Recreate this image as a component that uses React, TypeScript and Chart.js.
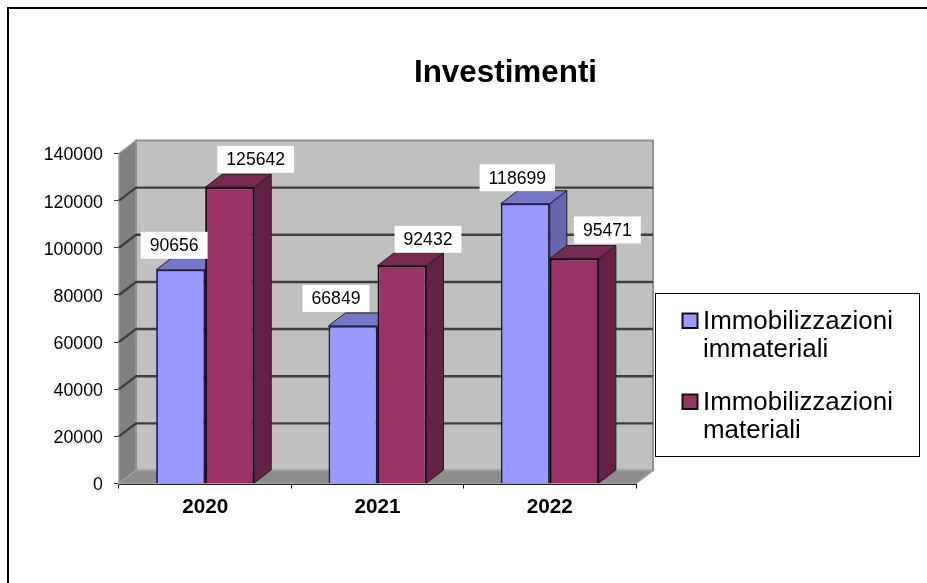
import React, { useEffect, useRef } from "react";
import { Chart, registerables } from "chart.js";

Chart.register(...registerables);

const TITLE = "Investimenti";
const categories = ["2020", "2021", "2022"];
const immateriali = [90656, 66849, 118699];
const materiali = [125642, 92432, 95471];
const seriesNames = ["Immobilizzazioni immateriali", "Immobilizzazioni materiali"];

const FONT = '"Liberation Sans", Arial, sans-serif';
const DEPTH_X = 17;
const DEPTH_Y = 13;

const FRONT = ["#9999ff", "#993366"];
const TOP = ["#7777c8", "#772a50"];
const SIDE = ["#6666aa", "#662244"];

// hand placed label offsets, from the top centre of each bar
const labelNudge = [
  [[-6.5, -24.5], [-17, -27.5], [-8, -26]],
  [[26, -28], [26, -26.3], [33, -28.5]],
];

function poly(ctx: CanvasRenderingContext2D, pts: number[][], fill: string, stroke?: string, lw = 1) {
  ctx.beginPath();
  pts.forEach((p, i) => (i ? ctx.lineTo(p[0], p[1]) : ctx.moveTo(p[0], p[1])));
  ctx.closePath();
  ctx.fillStyle = fill;
  ctx.fill();
  if (stroke) {
    ctx.strokeStyle = stroke;
    ctx.lineWidth = lw;
    ctx.stroke();
  }
}

const scene3d = {
  id: "scene3d",
  beforeDraw(chart: any) {
    const { ctx, width, height } = chart;
    ctx.save();
    ctx.fillStyle = "#fff";
    ctx.fillRect(0, 0, width, height);
    // title
    ctx.fillStyle = "#000";
    ctx.font = `bold 31.4px ${FONT}`;
    ctx.textAlign = "center";
    ctx.textBaseline = "alphabetic";
    ctx.fillText(TITLE, 505.5, 82);
    ctx.restore();
  },
  beforeDatasetsDraw(chart: any) {
    const { ctx, chartArea: a, scales } = chart;
    const y = scales.y;
    const l = a.left, r = a.right, t = a.top, b = a.bottom;
    const dx = DEPTH_X, dy = DEPTH_Y;
    ctx.save();
    // walls
    poly(ctx, [[l, t], [l + dx, t - dy], [l + dx, b - dy], [l, b]], "#808080", "#9a9a9a", 1.5);
    poly(ctx, [[l + dx, t - dy], [r + dx, t - dy], [r + dx, b - dy], [l + dx, b - dy]], "#c0c0c0", "#929292", 2);
    poly(ctx, [[l, b], [l + dx, b - dy], [r + dx, b - dy], [r, b]], "#8c8c8c", "#a0a0a0", 1.5);
    // gridlines
    ctx.strokeStyle = "#404040";
    ctx.lineWidth = 2.4;
    y.ticks.forEach((tk: any) => {
      const py = y.getPixelForValue(tk.value);
      if (tk.value === 0 || tk.value === y.max) return;
      ctx.beginPath();
      ctx.moveTo(l, py);
      ctx.lineTo(l + dx, py - dy);
      ctx.lineTo(r + dx, py - dy);
      ctx.stroke();
    });
    // bar tops and sides, first series first
    chart.data.datasets.forEach((_: any, di: number) => {
      chart.getDatasetMeta(di).data.forEach((bar: any) => {
        const w = bar.width;
        const x0 = bar.x - w / 2, x1 = bar.x + w / 2;
        const yTop = bar.y, yBase = bar.base;
        poly(ctx, [[x1, yTop], [x1 + dx, yTop - dy], [x1 + dx, yBase - dy], [x1, yBase]], SIDE[di], "#2a1a2a", 1);
        poly(ctx, [[x0, yTop], [x1, yTop], [x1 + dx, yTop - dy], [x0 + dx, yTop - dy]], TOP[di], "#2a1a2a", 1);
      });
    });
    ctx.restore();
  },
  afterDraw(chart: any) {
    const { ctx } = chart;
    ctx.save();
    // value labels
    ctx.font = `17.6px ${FONT}`;
    ctx.textAlign = "center";
    ctx.textBaseline = "middle";
    chart.data.datasets.forEach((ds: any, di: number) => {
      chart.getDatasetMeta(di).data.forEach((bar: any, i: number) => {
        const cx = bar.x + labelNudge[di][i][0];
        const cy = bar.y + labelNudge[di][i][1];
        const text = String(ds.data[i]);
        const w = ctx.measureText(text).width + 18;
        ctx.fillStyle = "#fff";
        ctx.fillRect(cx - w / 2, cy - 13.5, w, 27);
        ctx.fillStyle = "#000";
        ctx.fillText(text, cx, cy + 1);
      });
    });
    // legend
    ctx.fillStyle = "#fff";
    ctx.fillRect(655.5, 293.5, 264, 163);
    ctx.font = `25.9px ${FONT}`;
    ctx.textAlign = "left";
    ctx.textBaseline = "alphabetic";
    chart.data.datasets.forEach((ds: any, di: number) => {
      const lines = ds.label.split(" ");
      const top = 329 + di * 81;
      ctx.fillStyle = FRONT[di];
      ctx.fillRect(682.5, top - 15.5, 15, 14.5);
      ctx.strokeStyle = "#111";
      ctx.lineWidth = 2;
      ctx.strokeRect(682.5, top - 15.5, 15, 14.5);
      ctx.fillStyle = "#000";
      lines.forEach((ln: string, k: number) => ctx.fillText(ln, 703, top + k * 28));
    });
    ctx.restore();
  },
};

export default function App() {
  const ref = useRef<HTMLCanvasElement>(null);
  useEffect(() => {
    if (!ref.current) return;
    const chart = new Chart(ref.current, {
      type: "bar",
      data: {
        labels: categories,
        datasets: [
          { label: seriesNames[0], data: immateriali, backgroundColor: FRONT[0], borderColor: "#20204a", borderWidth: 1.8 },
          { label: seriesNames[1], data: materiali, backgroundColor: FRONT[1], borderColor: "#14060f", borderWidth: 1.8 },
        ],
      },
      options: {
        responsive: false,
        animation: false,
        layout: { padding: { left: 0, right: 291, top: 153.5, bottom: 0 } },
        datasets: { bar: { categoryPercentage: 0.569, barPercentage: 1 } },
        plugins: { legend: { display: false }, title: { display: false }, tooltip: { enabled: false } },
        scales: {
          x: {
            offset: true,
            afterFit: (s: any) => { s.height = 99.5; },
            grid: { display: true, drawOnChartArea: false, drawTicks: true, tickLength: 5, color: "#000", offset: true },
            border: { display: true, color: "#000", width: 2 },
            ticks: { color: "#000", font: { family: FONT, size: 20.7, weight: "bold" }, padding: 6, maxRotation: 0 },
          },
          y: {
            min: 0,
            max: 140000,
            afterFit: (s: any) => { s.width = 119; },
            grid: { display: true, drawOnChartArea: false, drawTicks: true, tickLength: 5, color: "#333" },
            border: { display: true, color: "#555", width: 1 },
            ticks: {
              stepSize: 20000,
              color: "#000",
              font: { family: FONT, size: 17.8 },
              padding: 11,
              labelOffset: 2,
              callback: (v: any) => String(v),
            },
          },
        },
      },
      plugins: [scene3d],
    } as any);
    return () => chart.destroy();
  }, []);
  return (
    <div style={{ position: "absolute", left: 0, top: 0, width: 927, height: 583, overflow: "hidden" }}>
      <canvas ref={ref} width={927} height={583} style={{ display: "block", filter: "blur(0.4px)" }} />
      <div style={{ position: "absolute", left: 7, top: 7, width: 920, height: 2, background: "#000" }} />
      <div style={{ position: "absolute", left: 7, top: 7, width: 2, height: 576, background: "#000" }} />
      <div style={{ position: "absolute", left: 655, top: 293, width: 263, height: 162, border: "1px solid #000", boxSizing: "content-box" }} />
    </div>
  );
}
